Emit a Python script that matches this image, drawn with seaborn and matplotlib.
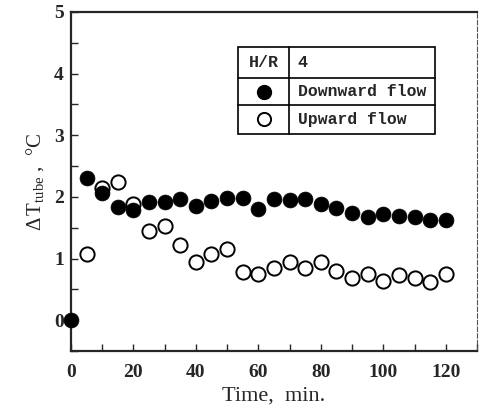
import matplotlib
matplotlib.use("Agg")
import matplotlib.pyplot as plt
from matplotlib.ticker import MultipleLocator
from matplotlib.lines import Line2D
import seaborn as sns
import pandas as pd

# Elapsed time (min) and tube temperature difference (deg C)
time_min = [0, 5, 10, 15, 20, 25, 30, 35, 40, 45, 50, 55, 60,
            65, 70, 75, 80, 85, 90, 95, 100, 105, 110, 115, 120]
downward = [0.00, 2.30, 2.07, 1.84, 1.78, 1.91, 1.91, 1.96, 1.86, 1.94, 1.99, 1.99, 1.81,
            1.96, 1.95, 1.96, 1.88, 1.82, 1.74, 1.68, 1.72, 1.69, 1.68, 1.62, 1.63]
up_time = time_min[1:]
upward = [1.07, 2.14, 2.24, 1.88, 1.44, 1.53, 1.22, 0.94, 1.07, 1.16, 0.78, 0.75,
          0.84, 0.94, 0.84, 0.94, 0.79, 0.69, 0.75, 0.64, 0.73, 0.69, 0.62, 0.75]

x_ticks = [0, 20, 40, 60, 80, 100, 120]
y_ticks = [0, 1, 2, 3, 4, 5]

sns.set_style("ticks")
plt.rcParams["font.family"] = ["Liberation Serif", "DejaVu Serif"]
plt.rcParams["mathtext.fontset"] = "custom"
plt.rcParams["mathtext.rm"] = "Liberation Serif"
plt.rcParams["mathtext.it"] = "Liberation Serif:italic"

fig = plt.figure(figsize=(4.79, 4.12), dpi=100)
ax = fig.add_axes([0.148, 0.148, 0.848, 0.823])

df_down = pd.DataFrame({"t": time_min, "dT": downward})
df_up = pd.DataFrame({"t": up_time, "dT": upward})

sns.scatterplot(data=df_up, x="t", y="dT", ax=ax, s=105, marker="o",
                facecolor="white", edgecolor="black", linewidth=1.4, zorder=3)
sns.scatterplot(data=df_down, x="t", y="dT", ax=ax, s=115, marker="o",
                color="black", edgecolor="black", linewidth=0.5, zorder=4,
                clip_on=False)

ax.set_xlim(0, 130)
ax.set_ylim(-0.5, 5)
ax.set_xticks(x_ticks)
ax.set_yticks(y_ticks)
ax.xaxis.set_minor_locator(MultipleLocator(10))
ax.yaxis.set_minor_locator(MultipleLocator(0.5))
ax.tick_params(which="both", direction="in", width=1.0)
ax.tick_params(which="major", length=5, labelsize=14)
ax.tick_params(which="minor", length=5)
ax.tick_params(axis="x", which="major", pad=9)
ax.tick_params(axis="y", which="major", pad=5)
for lab in ax.get_xticklabels() + ax.get_yticklabels():
    lab.set_fontweight("bold")

for side in ["left", "bottom", "top"]:
    ax.spines[side].set_linewidth(1.6)
ax.spines["right"].set_linewidth(0.8)
ax.spines["right"].set_linestyle((0, (4, 2)))
ax.spines["right"].set_color("#555555")

ax.set_xlabel("Time,  min.", fontsize=16, labelpad=4)
ax.set_ylabel(r"$\mathit{\Delta}\,\mathrm{T}_{\mathrm{tube}}$ ,  °C", fontsize=15, labelpad=6)

# Legend drawn as a small bordered table
x0, x1, xd = 238, 435, 289
y0, y1, y2, y3 = 47, 78, 105, 134
W, H = 479, 412
def fx(px):
    return px / W
def fy(py):
    return 1 - py / H
lw = 1.2
fig.add_artist(plt.Rectangle((fx(x0), fy(y3)), fx(x1) - fx(x0), fy(y0) - fy(y3),
                             fill=False, lw=lw, edgecolor="black", transform=fig.transFigure))
for yy in (y1, y2):
    fig.add_artist(Line2D([fx(x0), fx(x1)], [fy(yy), fy(yy)], lw=lw, color="black",
                          transform=fig.transFigure))
fig.add_artist(Line2D([fx(xd), fx(xd)], [fy(y0), fy(y3)], lw=lw, color="black",
                      transform=fig.transFigure))
mono = ["Liberation Mono", "DejaVu Sans Mono"]
tx = fx(xd) + 0.018
fig.text(fx((x0 + xd) / 2), fy((y0 + y1) / 2), "H/R", ha="center", va="center",
         family=mono, fontsize=12, fontweight="bold")
fig.text(tx, fy((y0 + y1) / 2), "4", ha="left", va="center",
         family=mono, fontsize=12, fontweight="bold")
fig.text(tx, fy((y1 + y2) / 2), "Downward flow", ha="left", va="center",
         family=mono, fontsize=11.8, fontweight="bold")
fig.text(tx, fy((y2 + y3) / 2), "Upward flow", ha="left", va="center",
         family=mono, fontsize=11.8, fontweight="bold")
fig.add_artist(Line2D([fx((x0 + xd) / 2)], [fy((y1 + y2) / 2)], marker="o", ms=10,
                      color="black", transform=fig.transFigure))
fig.add_artist(Line2D([fx((x0 + xd) / 2)], [fy((y2 + y3) / 2)], marker="o", ms=9.5,
                      mfc="white", mec="black", mew=1.4, transform=fig.transFigure))

fig.savefig("out.png", dpi=100)
